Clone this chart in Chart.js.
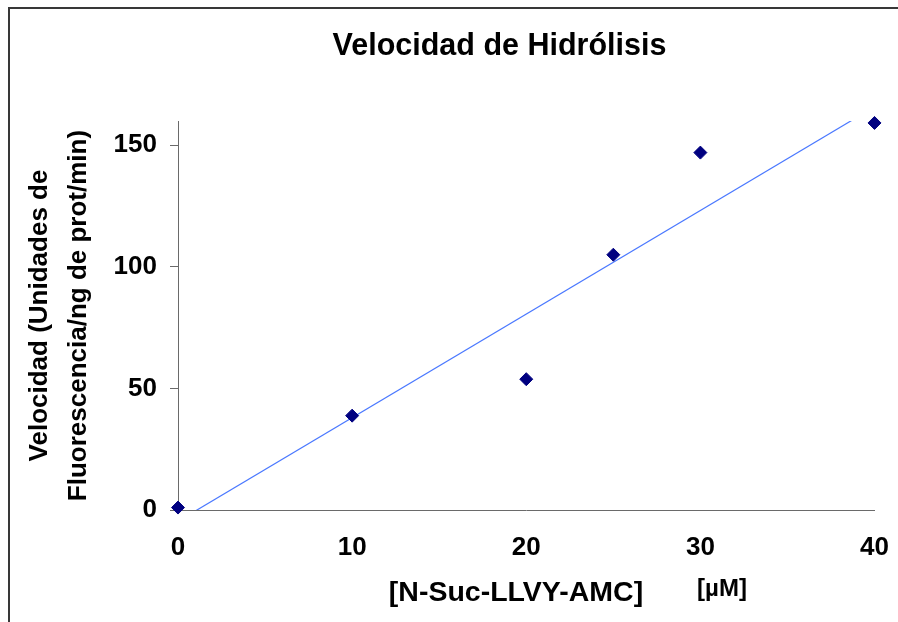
<!DOCTYPE html>
<html>
<head>
<meta charset="utf-8">
<script src="https://cdn.jsdelivr.net/npm/chart.js@4/dist/chart.umd.min.js"></script>
<style>
  html, body { margin: 0; padding: 0; overflow: hidden; background: #fff; }
  #wrap { position: relative; width: 898px; height: 622px; }
  #frame { position: absolute; left: 8px; top: 7px; width: 1200px; height: 1200px;
           border-left: 2px solid #383838; border-top: 2px solid #383838; pointer-events: none; }
  canvas { position: absolute; left: 0; top: 0; }
</style>
</head>
<body>
<div id="wrap">
  <canvas id="c" width="898" height="622"></canvas>
  <div id="frame"></div>
</div>
<script>
// ---- data ----
const concentrations = [0, 10, 20, 25, 30, 40];          // [N-Suc-LLVY-AMC] µM
const velocities     = [1, 38.8, 53.8, 105, 147, 159.2]; // Unidades de fluorescencia/ng prot/min
const xTicks = [0, 10, 20, 30, 40];
const yTicks = [0, 50, 100, 150];
const chartTitle = 'Velocidad de Hidrólisis';
const yTitleLines = ['Velocidad (Unidades de', 'Fluorescencia/ng de prot/min)'];
const xTitle = '[N-Suc-LLVY-AMC]';
const xUnit = '[µM]';

// linear trendline (least squares) from the data
const n = concentrations.length;
const mx = concentrations.reduce((a, b) => a + b, 0) / n;
const my = velocities.reduce((a, b) => a + b, 0) / n;
let sxy = 0, sxx = 0;
for (let i = 0; i < n; i++) {
  sxy += (concentrations[i] - mx) * (velocities[i] - my);
  sxx += (concentrations[i] - mx) ** 2;
}
const slope = sxy / sxx;
const intercept = my - slope * mx;
const xMin = Math.min(...concentrations), xMax = Math.max(...concentrations);
const trend = [xMin, xMax].map(x => ({ x, y: slope * x + intercept }));

const FONT = '"Liberation Sans", Arial, Helvetica, sans-serif';

const textPlugin = {
  id: 'texts',
  afterDraw(chart) {
    const ctx = chart.ctx;
    const ca = chart.chartArea;
    ctx.save();
    ctx.fillStyle = '#000';
    // title
    ctx.font = 'bold 30.5px ' + FONT;
    ctx.textAlign = 'center';
    ctx.textBaseline = 'alphabetic';
    ctx.fillText(chartTitle, 499.5, 55);
    // y title (two lines, rotated)
    ctx.font = 'bold 26px ' + FONT;
    const cy = (ca.top + ca.bottom) / 2;
    const baselines = [47, 86];
    yTitleLines.forEach((line, i) => {
      ctx.save();
      ctx.translate(baselines[i], cy);
      ctx.rotate(-Math.PI / 2);
      ctx.textAlign = 'center';
      ctx.textBaseline = 'alphabetic';
      ctx.fillText(line, 0, 0);
      ctx.restore();
    });
    // x title
    ctx.font = 'bold 28.5px ' + FONT;
    ctx.textAlign = 'center';
    ctx.fillText(xTitle, 516, 601);
    ctx.font = 'bold 24px ' + FONT;
    ctx.fillText(xUnit, 722, 596);
    ctx.restore();
  }
};

new Chart(document.getElementById('c'), {
  type: 'scatter',
  data: {
    datasets: [
      {
        label: 'Velocidad',
        data: concentrations.map((x, i) => ({ x, y: velocities[i] })),
        pointStyle: 'rectRot',
        pointRadius: 6.5,
        pointHoverRadius: 6.5,
        backgroundColor: '#000080',
        borderColor: '#000080',
        borderWidth: 1,
        showLine: false,
        clip: false,
        order: 1
      },
      {
        label: 'Lineal',
        type: 'line',
        data: trend,
        borderColor: '#4a78ff',
        borderWidth: 1.2,
        pointRadius: 0,
        fill: false,
        order: 2
      }
    ]
  },
  options: {
    responsive: false,
    animation: false,
    events: [],
    layout: { padding: { top: 121, right: 23.5, bottom: 0, left: 0 } },
    plugins: { legend: { display: false }, title: { display: false }, tooltip: { enabled: false } },
    scales: {
      x: {
        type: 'linear',
        min: 0, max: 40,
        afterBuildTicks: s => { s.ticks = xTicks.map(v => ({ value: v })); },
        afterFit: s => { s.height = 112; s.paddingLeft = 0; s.paddingRight = 0; },
        grid: { display: false },
        border: { display: true, color: '#6a6a6a', width: 1 },
        ticks: { padding: 14, color: '#000', font: { family: FONT, size: 26, weight: 'bold' } }
      },
      y: {
        type: 'linear',
        min: 0, max: 160,
        afterBuildTicks: s => { s.ticks = yTicks.map(v => ({ value: v })); },
        afterFit: s => { s.width = 178; s.paddingTop = 0; s.paddingBottom = 0; },
        grid: { display: true, drawOnChartArea: false, drawTicks: true, tickLength: 8, color: '#6a6a6a' },
        border: { display: true, color: '#6a6a6a', width: 1 },
        ticks: { padding: 13, color: '#000', font: { family: FONT, size: 26, weight: 'bold' } }
      }
    }
  },
  plugins: [textPlugin]
});
</script>
</body>
</html>
